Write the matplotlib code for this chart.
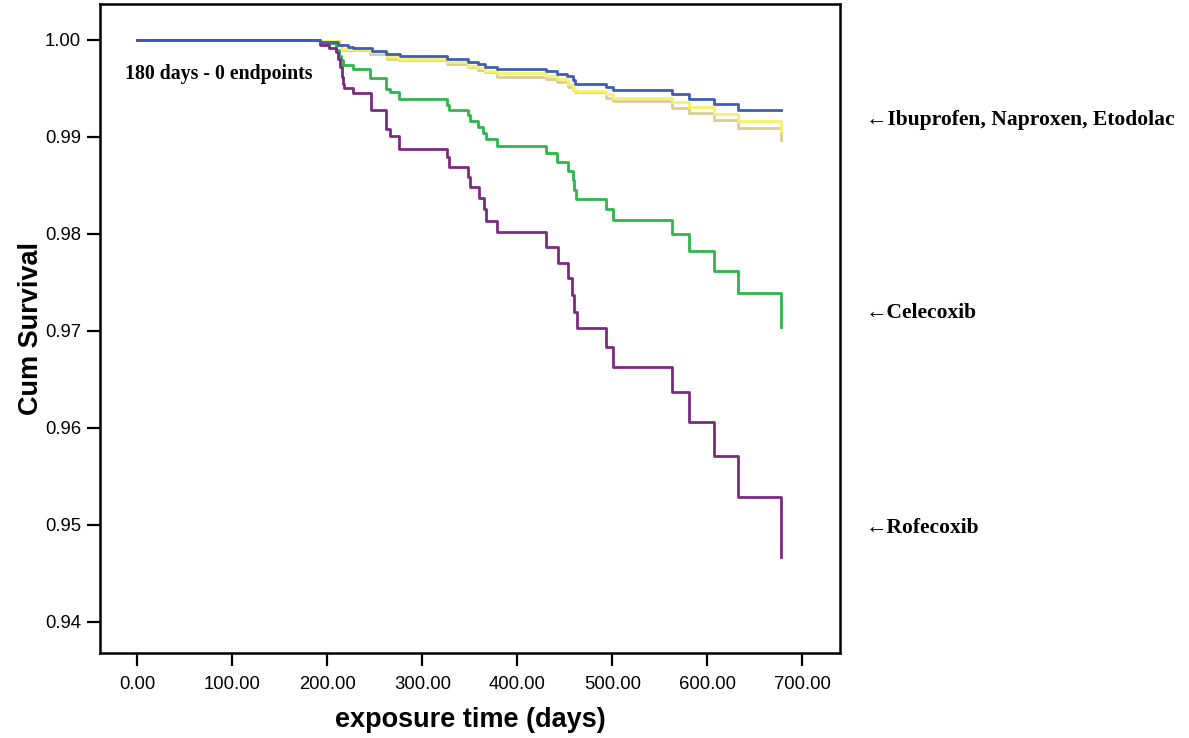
import matplotlib
matplotlib.use("Agg")
import matplotlib.pyplot as plt

# ---- data (days, cumulative survival after each step) ----
blue_t = [0, 192.3, 211.3, 221.8, 227.0, 246.7, 261.8, 276.5, 325.7, 348.4, 358.9, 366.0, 378.3,
          430.7, 442.1, 452.8, 458.3, 460.7, 493.4, 500.4, 562.5, 580.7, 607.4, 632.6, 677.6]
blue_v = [1.0, 0.99982, 0.99948, 0.99931, 0.99921, 0.99890, 0.99856, 0.99835, 0.99802, 0.99770,
          0.99749, 0.99719, 0.99701, 0.99680, 0.99649, 0.99629, 0.99588, 0.99549, 0.99519, 0.99485,
          0.99443, 0.99392, 0.99340, 0.99278, 0.99278]

yellow_t = [0, 190.5, 213.0, 215.0, 245.0, 262.5, 275.0, 325.7, 348.4, 358.9, 366.0, 378.3,
            430.7, 442.1, 453.0, 458.3, 461.0, 493.4, 500.4, 562.5, 580.7, 607.4, 632.6, 677.6]
yellow_v = [1.0, 0.99993, 0.99959, 0.99907, 0.99873, 0.99822, 0.99804, 0.99770, 0.99735, 0.99708,
            0.99680, 0.99657, 0.99632, 0.99598, 0.99543, 0.99492, 0.99477, 0.99440, 0.99405,
            0.99364, 0.99306, 0.99237, 0.99165, 0.99062]

tan_t = yellow_t
tan_v = [1.0, 0.99990, 0.99950, 0.99895, 0.99860, 0.99805, 0.99790, 0.99755, 0.99720, 0.99695,
         0.99670, 0.99622, 0.99598, 0.99564, 0.99515, 0.99485, 0.99467, 0.99405, 0.99366,
         0.99302, 0.99244, 0.99175, 0.99096, 0.98969]

cele_t = [0, 192.3, 209.5, 212.0, 214.0, 216.5, 227.0, 244.9, 261.8, 266.0, 275.5, 325.7, 328.1,
          348.4, 350.2, 358.9, 364.2, 367.0, 378.3, 430.2, 442.1, 453.1, 458.3, 459.7, 461.8,
          493.1, 500.4, 562.5, 580.7, 607.4, 632.6, 677.6]
cele_v = [1.0, 0.99966, 0.9990, 0.9984, 0.9979, 0.99742, 0.99698, 0.99605, 0.99492, 0.99467,
          0.99389, 0.99330, 0.99278, 0.99227, 0.99168, 0.99106, 0.99044, 0.98976, 0.98907,
          0.98832, 0.98739, 0.98649, 0.98557, 0.98454, 0.98361, 0.98255, 0.98141, 0.97997,
          0.97825, 0.97622, 0.97395, 0.97044]

rofe_t = [0, 192.3, 202.1, 209.2, 211.3, 213.0, 215.0, 216.5, 218.0, 227.0, 245.5, 261.8, 266.0,
          275.5, 325.7, 328.1, 348.4, 350.2, 359.7, 364.9, 367.1, 378.3, 430.7, 442.8, 453.7,
          457.9, 460.0, 462.5, 493.7, 500.4, 562.5, 580.7, 607.4, 632.6, 677.6]
rofe_v = [1.0, 0.9995, 0.99914, 0.9988, 0.9980, 0.9972, 0.9962, 0.9955, 0.99502, 0.99457,
          0.99278, 0.99079, 0.99010, 0.98875, 0.98797, 0.98694, 0.98591, 0.98481, 0.98368,
          0.98255, 0.98137, 0.98021, 0.97869, 0.97704, 0.97543, 0.97371, 0.97199, 0.97028,
          0.96832, 0.96632, 0.96371, 0.96065, 0.95711, 0.95292, 0.94667]

x_ticks = [0, 100, 200, 300, 400, 500, 600, 700]
y_ticks = [0.94, 0.95, 0.96, 0.97, 0.98, 0.99, 1.00]

labels = ["\u2190Ibuprofen, Naproxen, Etodolac", "\u2190Celecoxib", "\u2190Rofecoxib"]
label_y = [0.99175, 0.97186, 0.94969]

# ---- figure ----
fig = plt.figure(figsize=(11.89, 7.38), dpi=100)
ax = fig.add_axes([100 / 1189, 1 - 653.3 / 738, 740 / 1189, 649.3 / 738])

lw = 2.0
ax.step(tan_t, tan_v, where="post", color="#D6CD98", lw=lw)
ax.step(yellow_t, yellow_v, where="post", color="#F7F264", lw=lw)
ax.step(cele_t, cele_v, where="post", color="#2DB64A", lw=lw)
ax.step(rofe_t, rofe_v, where="post", color="#7B2A80", lw=lw)
ax.step(blue_t, blue_v, where="post", color="#3F5DB4", lw=lw)

ax.set_xlim(-39.3, 739.7)
ax.set_ylim(0.93677, 1.00371)
ax.set_xticks(x_ticks)
ax.set_xticklabels([f"{v:.2f}" for v in x_ticks])
ax.set_yticks(y_ticks)
ax.set_yticklabels([f"{v:.2f}" for v in y_ticks])

for s in ax.spines.values():
    s.set_linewidth(1.8)
ax.tick_params(axis="both", direction="out", length=9.5, width=1.6, labelsize=13.3,
               pad=4)
for lab in ax.get_xticklabels() + ax.get_yticklabels():
    lab.set_fontfamily("Liberation Sans")
ax.tick_params(axis="x", pad=7)

ax.set_xlabel("exposure time (days)", fontsize=19.5, fontweight="bold",
              family="Liberation Sans", labelpad=10)
ax.set_ylabel("Cum Survival", fontsize=19.5, fontweight="bold",
              family="Liberation Sans", labelpad=1)

ax.text(-12.5, 0.99650, "180 days - 0 endpoints", fontsize=14.3, fontweight="bold",
        family="Liberation Serif", va="center", ha="left")

for lab, yv in zip(labels, label_y):
    ax.text(767, yv, lab, fontsize=15.5, fontweight="bold", family="Liberation Serif",
            va="center", ha="left", clip_on=False)

fig.savefig("out.png", dpi=100)
